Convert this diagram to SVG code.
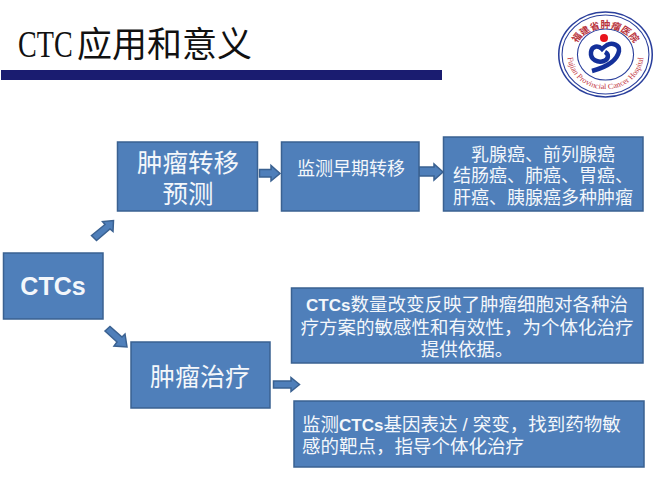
<svg xmlns="http://www.w3.org/2000/svg" width="660" height="480" viewBox="0 0 660 480">
<style>
.b{fill:#4f7fba;stroke:#3a6191;stroke-width:1.5}
.a{fill:#4f7fba;stroke:#3a6191;stroke-width:1.5;stroke-linejoin:miter}
text{font-family:"Liberation Sans","Noto Sans CJK SC",sans-serif;fill:#f4f7fb;text-anchor:middle}
.t{font-size:18px}
.w{font-size:18.500px}
.l{font-size:25.500px}
.e{font-weight:bold}
.r{fill:none;stroke:#2a3f9c}
</style>
<defs>
<path id="top" d="M-29.500 3A29.500 29.500 0 1 1 29.500 3"/>
<path id="bot" d="M-34 -7A34.700 34.700 0 1 0 34 -7"/>
</defs>
<rect width="660" height="480" fill="#fff"/>
<text transform="translate(18 57) scale(.74 1)" style="font-family:'Liberation Serif',serif;font-size:38px;fill:#111;text-anchor:start">CTC</text>
<text x="77" y="57" style="font-family:'Liberation Serif','Noto Sans CJK SC',serif;font-size:35px;fill:#111;text-anchor:start">应用和意义</text>
<rect x="1" y="70" width="441" height="10" fill="#1a1c70"/>
<g id="logo">
<g transform="translate(605.500 54.500) scale(1.1 1)">
<circle class="r" r="42.500" stroke-width="1.400"/>
<circle class="r" r="39.500" stroke-width="1"/>
<circle class="r" r="25.500" stroke-width="1"/>
<text style="font-size:9px;fill:#b8323c;font-family:'Noto Sans CJK SC',sans-serif;font-weight:bold"><textPath href="#top" startOffset="50%">福建省肿瘤医院</textPath></text>
<text style="font-size:7.500px;fill:#c0303a;font-family:'Liberation Serif',serif"><textPath href="#bot" startOffset="50%">Fujian Provincial Cancer Hospital</textPath></text>
</g>
<circle cx="604" cy="38" r="4" fill="#e8141c"/>
<path d="M592 71C603 68 617 62 619 51C620 45 612 42 607 45C604 47 603 48 602 49C598 45 592 46 591 52C590 60 598 63 604 61C609 59 609 54 605 52" fill="none" stroke="#14309a" stroke-width="4.500"/>
</g>
<g id="connectors">
<path class="a" d="M91.500 235.500L105 224.500L102.500 221.500L113.500 220.500L113 231.500L110 229L96.500 240.500Z"/>
<path class="a" d="M259.500 169.500H271V165.500L280 173.500L271 181V177H259.500Z"/>
<path class="a" d="M419 167H434V164L443 172L434 180V176H419Z"/>
<path class="a" d="M105 331L110 326.500L122 337L125 334L127 347L114 346L117 342Z"/>
<path class="a" d="M273.500 381H291V377.500L299.500 384.500L291 391.500V388H273.500Z"/>
</g>
<g id="ctcs"><rect class="b" x="3.500" y="253" width="99.500" height="66"/><text x="53" y="295" class="e" style="font-size:25px">CTCs</text></g>
<g id="metastasis"><rect class="b" x="117.500" y="142" width="140" height="69"/><text x="188" y="172" class="l">肿瘤转移</text><text x="188" y="203" class="l">预测</text></g>
<g id="monitor"><rect class="b" x="281.500" y="142" width="137.500" height="69"/><text x="351" y="175" class="t">监测早期转移</text></g>
<g id="cancers"><rect class="b" x="443.500" y="137" width="199.500" height="74"/><text x="543" y="161" class="t">乳腺癌、前列腺癌</text><text x="543" y="182" class="t">结肠癌、肺癌、胃癌、</text><text x="543" y="204" class="t">肝癌、胰腺癌多种肿瘤</text></g>
<g id="therapy"><rect class="b" x="131" y="342" width="139" height="66"/><text x="200" y="386" class="l" style="font-size:25px">肿瘤治疗</text></g>
<g id="count"><rect class="b" x="291.500" y="288" width="351.500" height="75"/><text x="467" y="311" class="w"><tspan class="e" style="font-size:17px">CTCs</tspan>数量改变反映了肿瘤细胞对各种治</text><text x="467" y="334" class="w">疗方案的敏感性和有效性，为个体化治疗</text><text x="467" y="356" class="w">提供依据。</text></g>
<g id="gene"><rect class="b" x="294" y="401" width="350" height="66"/><text x="302" y="431" class="w" style="text-anchor:start">监测<tspan class="e" style="font-size:17px">CTCs</tspan>基因表达 / 突变，找到药物敏</text><text x="302" y="453" class="w" style="text-anchor:start">感的靶点，指导个体化治疗</text></g>
</svg>
